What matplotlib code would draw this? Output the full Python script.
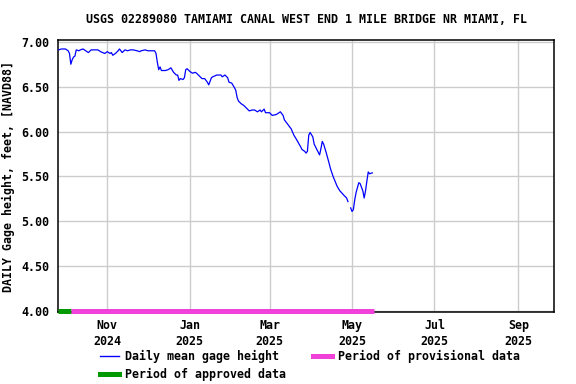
import matplotlib
matplotlib.use("Agg")
import matplotlib.pyplot as plt
import numpy as np
import pandas as pd
from matplotlib.lines import Line2D

# ---- data ----
dates = [
    "2024-09-26", "2024-09-28", "2024-10-01", "2024-10-03", "2024-10-04", "2024-10-05",
    "2024-10-06", "2024-10-07", "2024-10-08", "2024-10-09", "2024-10-11", "2024-10-12",
    "2024-10-14", "2024-10-16", "2024-10-18", "2024-10-20", "2024-10-25", "2024-10-27",
    "2024-10-30", "2024-11-01", "2024-11-03", "2024-11-04", "2024-11-05", "2024-11-07",
    "2024-11-09", "2024-11-10", "2024-11-12", "2024-11-14", "2024-11-16", "2024-11-18",
    "2024-11-20", "2024-11-23", "2024-11-25", "2024-11-26", "2024-11-29", "2024-12-01",
    "2024-12-04", "2024-12-06", "2024-12-07", "2024-12-08", "2024-12-09", "2024-12-10",
    "2024-12-11", "2024-12-14", "2024-12-16", "2024-12-18", "2024-12-20", "2024-12-22",
    "2024-12-23", "2024-12-24", "2024-12-25", "2024-12-27", "2024-12-28", "2024-12-29",
    "2024-12-30", "2025-01-01", "2025-01-03", "2025-01-05", "2025-01-06", "2025-01-08",
    "2025-01-10", "2025-01-12", "2025-01-14", "2025-01-15", "2025-01-17", "2025-01-18",
    "2025-01-21", "2025-01-24", "2025-01-25", "2025-01-27", "2025-01-29", "2025-01-30",
    "2025-02-01", "2025-02-03", "2025-02-04", "2025-02-05", "2025-02-06", "2025-02-08",
    "2025-02-10", "2025-02-12", "2025-02-14", "2025-02-16", "2025-02-18", "2025-02-20",
    "2025-02-22", "2025-02-23", "2025-02-25", "2025-02-26", "2025-03-01", "2025-03-03",
    "2025-03-06", "2025-03-09", "2025-03-11", "2025-03-12", "2025-03-15", "2025-03-17",
    "2025-03-19", "2025-03-21", "2025-03-24", "2025-03-25", "2025-03-27", "2025-03-28",
    "2025-03-29", "2025-03-30", "2025-03-31", "2025-04-02", "2025-04-03", "2025-04-05",
    "2025-04-07", "2025-04-08", "2025-04-09", "2025-04-10", "2025-04-12", "2025-04-14",
    "2025-04-15", "2025-04-17", "2025-04-20", "2025-04-22", "2025-04-25", "2025-04-27",
    "2025-04-28", "2025-04-29", "2025-04-30", "2025-05-01", "2025-05-02", "2025-05-03",
    "2025-05-04", "2025-05-06", "2025-05-07", "2025-05-09", "2025-05-10", "2025-05-11",
    "2025-05-12", "2025-05-13", "2025-05-14", "2025-05-16",
]
gage_height = [
    6.91, 6.92, 6.92, 6.90, 6.87, 6.75,
    6.80, 6.83, 6.84, 6.91, 6.90, 6.91,
    6.92, 6.90, 6.88, 6.91, 6.91, 6.89,
    6.87, 6.89, 6.87, 6.88, 6.85, 6.87,
    6.90, 6.92, 6.88, 6.91, 6.90, 6.91,
    6.91, 6.90, 6.89, 6.90, 6.91, 6.90,
    6.90, 6.90, 6.87, 6.77, 6.69, 6.72,
    6.68, 6.68, 6.69, 6.71, 6.66, 6.63,
    6.63, 6.57, 6.59, 6.58, 6.60, 6.69,
    6.70, 6.67, 6.65, 6.66, 6.65, 6.62,
    6.59, 6.59, 6.55, 6.52, 6.60, 6.61,
    6.63, 6.63, 6.61, 6.63, 6.60, 6.55,
    6.54, 6.49, 6.46, 6.38, 6.34, 6.31,
    6.29, 6.26, 6.23, 6.24, 6.24, 6.22,
    6.24, 6.22, 6.25, 6.21, 6.21, 6.18,
    6.19, 6.22, 6.18, 6.13, 6.07, 6.03,
    5.96, 5.91, 5.83, 5.80, 5.78, 5.76,
    5.78, 5.96, 5.99, 5.94, 5.86, 5.80,
    5.74, 5.81, 5.89, 5.86, 5.76, 5.65,
    5.59, 5.50, 5.39, 5.34, 5.29, 5.26,
    5.22, np.nan, 5.15, 5.11, 5.13, 5.24,
    5.32, 5.43, 5.42, 5.34, 5.26, 5.34,
    5.45, 5.55, 5.53, 5.54,
]
approved_period = ["2024-09-25 12:00", "2024-10-05 00:00"]
provisional_period = ["2024-10-05 00:00", "2025-05-17 00:00"]
x_ticks = ["2024-11-01", "2025-01-01", "2025-03-01", "2025-05-01", "2025-07-01", "2025-09-01"]
x_tick_labels = ["Nov\n2024", "Jan\n2025", "Mar\n2025", "May\n2025", "Jul\n2025", "Sep\n2025"]
y_ticks = [4.0, 4.5, 5.0, 5.5, 6.0, 6.5, 7.0]
x_range = ["2024-09-25 12:00", "2025-09-27 10:00"]

# ---- figure ----
plt.rcParams['font.family'] = ['DejaVu Sans Mono']
plt.rcParams['font.weight'] = 'bold'
FS = 8.4

fig = plt.figure(figsize=(5.76, 3.84), dpi=100)
ax = fig.add_axes([58/576, 1-312/384, (554-58)/576, (312-40)/384])

d = pd.to_datetime(dates, format='ISO8601')
ax.plot(d, gage_height, color='#0000FF', lw=0.9, zorder=3)

ax.plot(pd.to_datetime(approved_period, format='ISO8601'), [4.0, 4.0], color='#009900', lw=3.6,
        solid_capstyle='butt', clip_on=False, zorder=4)
ax.plot(pd.to_datetime(provisional_period, format='ISO8601'), [4.0, 4.0], color='#F042D8', lw=3.6,
        solid_capstyle='butt', clip_on=False, zorder=4)

xr = pd.to_datetime(x_range, format='ISO8601')
ax.set_xlim(xr[0], xr[1])
ax.set_ylim(3.99, 7.02)

ax.set_xticks(pd.to_datetime(x_ticks, format='ISO8601'))
ax.set_xticklabels(x_tick_labels, fontsize=FS, fontweight='bold', linespacing=1.3)
ax.set_yticks(y_ticks)
ax.set_yticklabels([f"{v:.2f}" for v in y_ticks], fontsize=FS, fontweight='bold')
ax.tick_params(axis='both', length=0)
ax.tick_params(axis='x', pad=5)
ax.tick_params(axis='y', pad=6)

ax.grid(True, color='#CCCCCC', lw=1.0, zorder=0)
ax.set_axisbelow(True)
for s in ax.spines.values():
    s.set_color('black')
    s.set_linewidth(1.1)

ax.set_ylabel("DAILY Gage height, feet, [NAVD88]", fontsize=FS, fontweight='bold', labelpad=5)
ax.set_title("USGS 02289080 TAMIAMI CANAL WEST END 1 MILE BRIDGE NR MIAMI, FL",
             fontsize=FS, fontweight='bold', pad=12)

handles = [
    Line2D([], [], color='#0000FF', lw=1.0),
    Line2D([], [], color='#009900', lw=3.6),
    Line2D([], [], color='#F042D8', lw=3.6),
]
labels = ["Daily mean gage height", "Period of approved data", "Period of provisional data"]
fig.legend(handles, labels, loc='upper left', bbox_to_anchor=(0.170, 0.094), ncol=2,
           frameon=False, prop={'size': FS, 'weight': 'bold', 'family': 'DejaVu Sans Mono'},
           handlelength=1.6, handletextpad=0.55, columnspacing=2.3, labelspacing=0.4,
           borderpad=0.2, borderaxespad=0)

fig.savefig("out.png", dpi=100)
